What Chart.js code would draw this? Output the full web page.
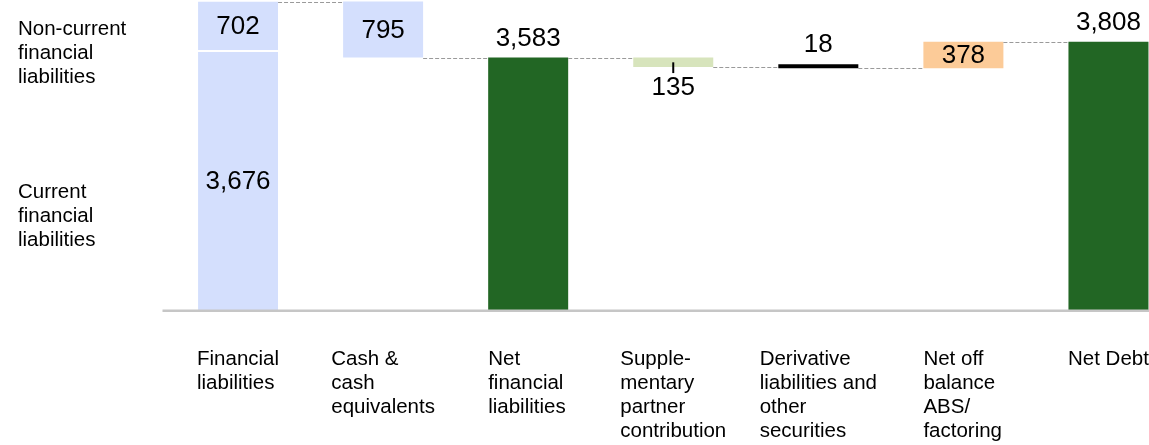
<!DOCTYPE html>
<html>
<head>
<meta charset="utf-8">
<script src="https://cdn.jsdelivr.net/npm/chart.js@4"></script>
<style>
  html, body { margin: 0; padding: 0; background: #fff; overflow: hidden; }
  #wrap { position: relative; width: 1181px; height: 445px; }
</style>
</head>
<body>
<div id="wrap"><canvas id="myChart"></canvas></div>
<script>
const categories = [
  ['Financial', 'liabilities'],
  ['Cash &', 'cash', 'equivalents'],
  ['Net', 'financial', 'liabilities'],
  ['Supple-', 'mentary', 'partner', 'contribution'],
  ['Derivative', 'liabilities and', 'other', 'securities'],
  ['Net off', 'balance', 'ABS/', 'factoring'],
  ['Net Debt']
];
const currentLiabilities = 3676;
const nonCurrentLiabilities = 702;
// change of each column, null = (sub)total column
const steps = [null, -795, null, -135, -18, 378, null];
const sideLabels = [
  ['Non-current', 'financial', 'liabilities'],
  ['Current', 'financial', 'liabilities']
];
const barColors = ['#d4dffd', '#d4dffd', '#226624', '#d7e4bc', '#000000', '#fccb98', '#226624'];
const labelPos = ['inside', 'inside', 'above', 'below', 'above', 'inside', 'above'];

// floating ranges from the running total
let running = 0;
const ranges = [];
const levels = [];
steps.forEach((s, i) => {
  if (i === 0) {
    running = currentLiabilities + nonCurrentLiabilities;
    ranges.push([currentLiabilities, running]);
  } else if (s === null) {
    ranges.push([0, running]);
  } else {
    ranges.push([running, running + s]);
    running += s;
  }
  levels.push(running);
});
const valueTexts = steps.map((s, i) => i === 0 ? nonCurrentLiabilities : (s === null ? levels[i] : Math.abs(s)));
const currentRange = categories.map((c, i) => i === 0 ? [0, currentLiabilities] : null);

const fmt = v => v.toLocaleString('en-US');
const FONT = '"Liberation Sans", Arial, Helvetica, sans-serif';

const waterfallText = {
  id: 'waterfallText',
  afterDatasetsDraw(chart) {
    const ctx = chart.ctx;
    const y = chart.scales.y;
    const area = chart.chartArea;
    const bars = chart.getDatasetMeta(0).data;
    ctx.save();

    // connectors
    ctx.strokeStyle = '#9a9a9a';
    ctx.lineWidth = 1;
    ctx.setLineDash([4, 2]);
    for (let i = 0; i < bars.length - 1; i++) {
      const a = bars[i], b = bars[i + 1];
      const py = Math.round(y.getPixelForValue(levels[i])) + 0.5;
      ctx.beginPath();
      ctx.moveTo(a.x + a.width / 2, py);
      ctx.lineTo(b.x - b.width / 2, py);
      ctx.stroke();
    }
    ctx.setLineDash([]);

    // base line
    const y0 = y.getPixelForValue(0);
    ctx.fillStyle = '#c6c6c6';
    ctx.fillRect(area.left - 3, y0 - 0.5, chart.width, 2.5);

    // value labels
    ctx.fillStyle = '#000';
    ctx.font = '26px ' + FONT;
    ctx.textAlign = 'center';
    ctx.textBaseline = 'alphabetic';
    bars.forEach((el, i) => {
      const top = Math.min(el.y, el.base), bottom = Math.max(el.y, el.base);
      const txt = fmt(valueTexts[i]);
      if (labelPos[i] === 'inside') {
        ctx.fillText(txt, el.x, (top + bottom) / 2 + 8);
      } else if (labelPos[i] === 'above') {
        ctx.fillText(txt, el.x, top - 12);
      } else {
        ctx.fillText(txt, el.x, bottom + 28);
        ctx.strokeStyle = '#000';
        ctx.lineWidth = 2;
        ctx.beginPath();
        ctx.moveTo(el.x, (top + bottom) / 2);
        ctx.lineTo(el.x, bottom + 6);
        ctx.stroke();
      }
    });
    const cur = chart.getDatasetMeta(1).data[0];
    ctx.fillText(fmt(currentLiabilities), cur.x, (cur.y + cur.base) / 2 + 8);

    // category labels
    ctx.font = '20.5px ' + FONT;
    ctx.textAlign = 'left';
    bars.forEach((el, i) => {
      const lines = categories[i];
      const w = Math.max(el.width, ...lines.map(l => ctx.measureText(l).width));
      lines.forEach((l, k) => ctx.fillText(l, el.x - w / 2, 365 + k * 24));
    });

    // side labels
    sideLabels[0].forEach((l, k) => ctx.fillText(l, 18, 35 + k * 24));
    sideLabels[1].forEach((l, k) => ctx.fillText(l, 18, 198 + k * 24));
    ctx.restore();
  }
};

new Chart(document.getElementById('myChart'), {
  type: 'bar',
  data: {
    labels: categories.map(c => c.join(' ')),
    datasets: [
      {
        data: ranges,
        backgroundColor: barColors,
        borderColor: '#ffffff',
        borderWidth: categories.map((c, i) => i === 0 ? { top: 0, right: 0, bottom: 1, left: 0 } : 0),
        borderSkipped: false,
        minBarLength: 4,
        grouped: false,
        barPercentage: 0.5515,
        categoryPercentage: 1
      },
      {
        data: currentRange,
        backgroundColor: '#d4dffd',
        borderColor: '#ffffff',
        borderWidth: { top: 1, right: 0, bottom: 0, left: 0 },
        borderSkipped: false,
        grouped: false,
        barPercentage: 0.5515,
        categoryPercentage: 1
      }
    ]
  },
  options: {
    responsive: true,
    maintainAspectRatio: false,
    animation: false,
    devicePixelRatio: 1,
    layout: { padding: { left: 165.5, right: 0, top: 0, bottom: 135 } },
    plugins: { legend: { display: false }, tooltip: { enabled: false } },
    scales: {
      x: { display: false },
      y: { display: false, min: 0, max: 4400 }
    }
  },
  plugins: [waterfallText]
});
</script>
</body>
</html>
